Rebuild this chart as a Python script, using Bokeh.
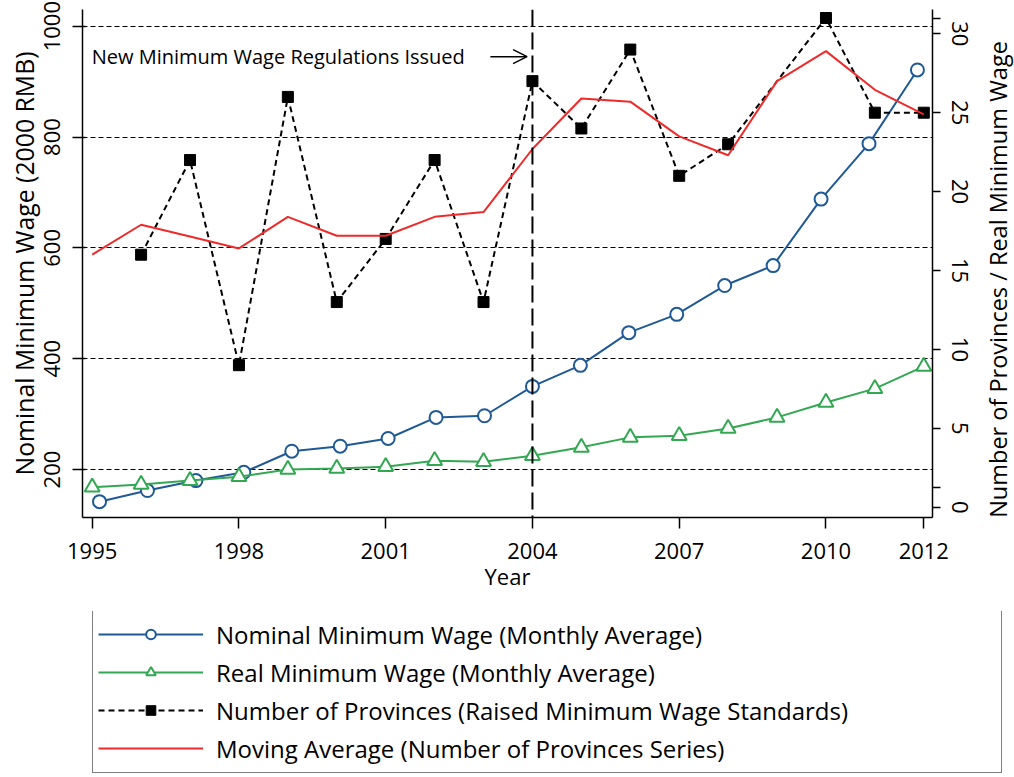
import math
from bokeh.plotting import figure
from bokeh.layouts import column, row
from bokeh.models import (Range1d, LinearAxis, FixedTicker, Span, Label, Arrow,
                          OpenHead, Legend, LegendItem)
from bokeh.embed import file_html
from bokeh.resources import INLINE

# ---------------- data ----------------
years = [1995, 1996, 1997, 1998, 1999, 2000, 2001, 2002, 2003,
         2004, 2005, 2006, 2007, 2008, 2009, 2010, 2011, 2012]
nominal_x = [1995.15, 1996.13, 1997.12, 1998.10, 1999.08, 2000.07, 2001.05,
             2002.03, 2003.02, 2004.00, 2004.98, 2005.97, 2006.95, 2007.93,
             2008.92, 2009.90, 2010.88, 2011.87]
nominal_wage = [142, 162, 180, 195, 233, 242, 256, 294, 297,
                350, 388, 447, 480, 532, 568, 688, 788, 921]
real_wage = [168, 173, 180, 187, 200, 202, 205, 216, 214,
             225, 240, 258, 261, 274, 294, 321, 346, 386]
prov_years = [1996, 1997, 1998, 1999, 2000, 2001, 2002, 2003, 2004,
              2005, 2006, 2007, 2008, 2010, 2011, 2012]
provinces = [16, 22, 9, 26, 13, 17, 22, 13, 27, 24, 29, 21, 23, 31, 25, 25]
moving_avg = [16.0, 17.9, 17.15, 16.4, 18.4, 17.2, 17.2, 18.4, 18.7,
              22.7, 25.9, 25.7, 23.5, 22.3, 27.0, 28.9, 26.45, 24.9]

x_ticks = [1995, 1998, 2001, 2004, 2007, 2010, 2012]
left_ticks = [200, 400, 600, 800, 1000]
right_ticks = [0, 5, 10, 15, 20, 25, 30]
right_extra_ticks = [1.25, 31]

event_year = 2004
event_text = "New Minimum Wage Regulations Issued"
event_label_x = 1994.99
event_label_y = 945
arrow_x = [2003.14, 2003.89]

left_title = "Nominal Minimum Wage (2000 RMB)"
right_title = "Number of Provinces / Real Minimum Wage"
right_title_y = 14.43      # centre of the right title, in right-axis units

labels = ["Nominal Minimum Wage (Monthly Average)",
          "Real Minimum Wage (Monthly Average)",
          "Number of Provinces (Raised Minimum Wage Standards)",
          "Moving Average (Number of Provinces Series)"]

# ---------------- styling ----------------
FONT = "Open Sans"
BLUE = "#1f5a96"
GREEN = "#33a852"
RED = "#ee2a2a"
BLACK = "#000000"

MAIN_H = 611
MAIN_W = 981
TOTAL_W = 1014
TOTAL_H = 776
FRAME_TOP = 9
FRAME_H = 508

left_rng = Range1d(113.4, 1030.1)
right_rng = Range1d(-0.653, 31.54)

p = figure(frame_width=850, frame_height=FRAME_H,
           x_range=Range1d(1994.802, 2012.178), y_range=left_rng,
           output_backend="svg", toolbar_location=None,
           min_border_left=82, min_border_right=MAIN_W - 82 - 850,
           min_border_top=FRAME_TOP, min_border_bottom=MAIN_H - FRAME_TOP - FRAME_H,
           background_fill_color="white", border_fill_color="white")
p.extra_y_ranges = {"right": right_rng}
p.outline_line_color = None

# grid
p.xgrid.visible = False
p.ygrid.ticker = FixedTicker(ticks=left_ticks)
p.ygrid.grid_line_color = BLACK
p.ygrid.grid_line_width = 1
p.ygrid.grid_line_dash = "5 3"


def style_axis(ax, tick_out, tick_in, standoff):
    ax.axis_line_width = 1.5
    ax.axis_line_color = BLACK
    ax.major_tick_line_width = 1.5
    ax.major_tick_line_color = BLACK
    ax.major_tick_out = tick_out
    ax.major_tick_in = tick_in
    ax.major_label_standoff = standoff
    ax.major_label_text_font = FONT
    ax.major_label_text_font_size = "22px"
    ax.major_label_text_color = BLACK
    ax.axis_label_text_font = FONT
    ax.axis_label_text_color = BLACK
    ax.axis_label_text_font_style = "normal"


# x axis
xa = p.xaxis[0]
xa.ticker = FixedTicker(ticks=x_ticks)
style_axis(xa, 11, 0, 14)
xa.minor_tick_out = 0
xa.minor_tick_in = 0
xa.axis_label = "Year"
xa.axis_label_standoff = -1
xa.axis_label_text_font_size = "22px"

# left axis
ya = p.yaxis[0]
ya.ticker = FixedTicker(ticks=left_ticks)
style_axis(ya, 10, 3, 12)
ya.minor_tick_out = 0
ya.minor_tick_in = 0
ya.major_label_orientation = "vertical"
ya.axis_label = left_title
ya.axis_label_standoff = 1
ya.axis_label_text_font_size = "24.8px"

# right axis
ra = LinearAxis(y_range_name="right",
                ticker=FixedTicker(ticks=right_ticks, minor_ticks=right_extra_ticks))
style_axis(ra, 8, 0, 11)
ra.minor_tick_line_width = 1.5
ra.minor_tick_line_color = BLACK
ra.minor_tick_out = 8
ra.minor_tick_in = 0
ra.major_label_orientation = "vertical"
p.add_layout(ra, "right")


# ---------------- series ----------------
def add_series(fig):
    r_nom_l = fig.line(nominal_x, nominal_wage, line_color=BLUE, line_width=2)
    r_nom_s = fig.scatter(nominal_x, nominal_wage, marker="circle", size=13,
                          line_color=BLUE, line_width=2, fill_color="white")
    r_real_l = fig.line(years, real_wage, line_color=GREEN, line_width=2)
    r_real_s = fig.scatter(years, real_wage, marker="triangle", size=15,
                           line_color=GREEN, line_width=2, fill_color="white")
    r_prov_l = fig.line(prov_years, provinces, line_color=BLACK, line_width=2,
                        line_dash="6 4", y_range_name="right")
    r_prov_s = fig.scatter(prov_years, provinces, marker="square", size=11,
                           line_color=BLACK, fill_color=BLACK, y_range_name="right")
    r_ma = fig.line(years, moving_avg, line_color=RED, line_width=2,
                    y_range_name="right")
    return [[r_nom_l, r_nom_s], [r_real_l, r_real_s], [r_prov_l, r_prov_s], [r_ma]]


add_series(p)

# event marker
p.add_layout(Span(location=event_year, dimension="height", line_color=BLACK,
                  line_width=2, line_dash="17 6"))
p.add_layout(Label(x=event_label_x, y=event_label_y, text=event_text,
                   text_font=FONT, text_font_size="20px",
                   text_baseline="middle", text_align="left",
                   text_color=BLACK))
p.add_layout(Arrow(end=OpenHead(size=14, line_width=1.5, line_color=BLACK),
                   x_start=arrow_x[0], y_start=event_label_y,
                   x_end=arrow_x[1], y_end=event_label_y,
                   line_width=1.5, line_color=BLACK))

# ---------------- right axis title (narrow strip to the right) ----------------
TW = TOTAL_W - MAIN_W
t = figure(width=TW, height=MAIN_H, x_range=Range1d(0, TW), y_range=right_rng,
           x_axis_type=None, y_axis_type=None, output_backend="svg",
           toolbar_location=None, min_border_left=0, min_border_right=0,
           min_border_top=FRAME_TOP, min_border_bottom=MAIN_H - FRAME_TOP - FRAME_H,
           background_fill_color="white", border_fill_color="white")
t.outline_line_color = None
t.grid.visible = False
t.add_layout(Label(x=TW / 2, y=right_title_y, text=right_title, angle=math.pi / 2,
                   text_font=FONT, text_font_size="23.5px", text_color=BLACK,
                   text_align="center", text_baseline="middle"))

# ---------------- legend strip below ----------------
LH = TOTAL_H - MAIN_H
lg = figure(width=TOTAL_W, height=LH, x_range=Range1d(0, 1), y_range=Range1d(0, 1),
            x_axis_type=None, y_axis_type=None, output_backend="svg",
            toolbar_location=None, min_border=0,
            background_fill_color="white", border_fill_color="white")
lg.extra_y_ranges = {"right": Range1d(0, 1)}
lg.outline_line_color = None
lg.grid.visible = False
groups = add_series(lg)   # same series, outside this strip's ranges: only legend glyphs show

items = [LegendItem(label=lab, renderers=rs) for lab, rs in zip(labels, groups)]
legend = Legend(items=items, location=(92, 3), orientation="vertical",
                margin=0, padding=5, spacing=0,
                glyph_width=105, glyph_height=24, label_height=38,
                label_width=780, label_standoff=13,
                label_text_font=FONT, label_text_font_size="24px",
                label_text_color=BLACK,
                border_line_color=BLACK, border_line_width=1.2,
                background_fill_color="white", background_fill_alpha=1.0)
lg.add_layout(legend)

layout = column(row(p, t, spacing=0), lg, spacing=0)
open("out.html", "w").write(file_html(layout, INLINE))
